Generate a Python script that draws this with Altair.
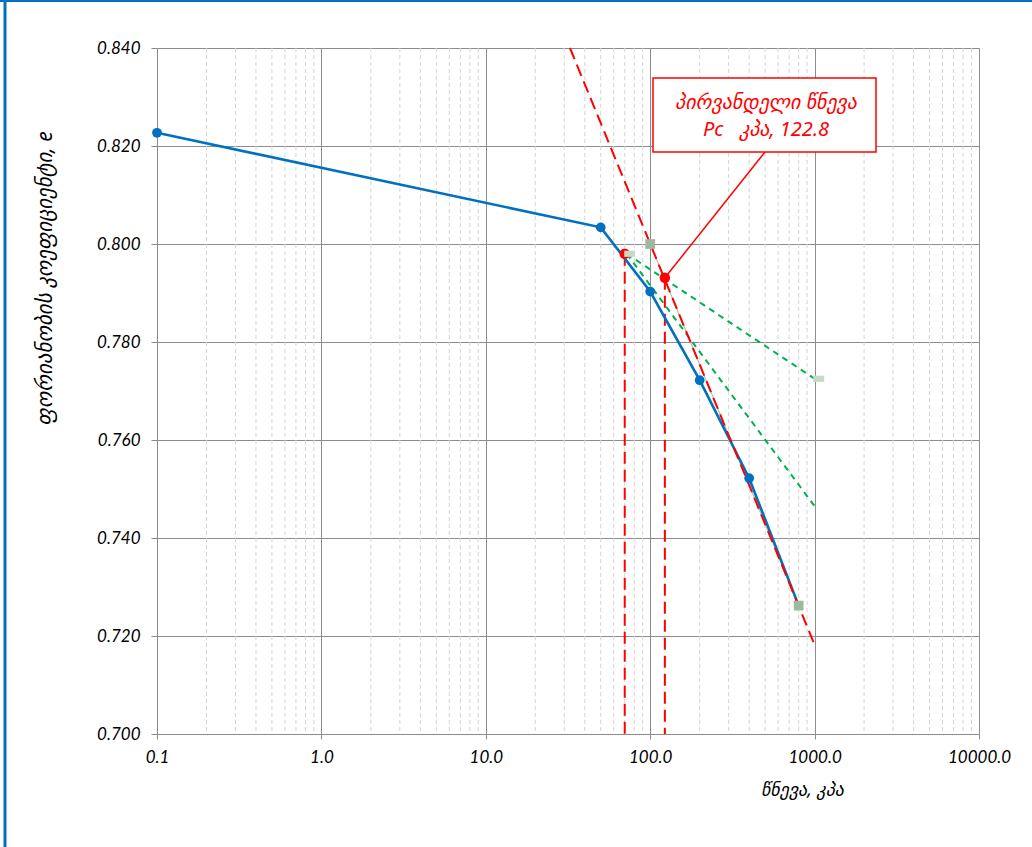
import altair as alt
import pandas as pd

# ---- data ----
pressure = [0.1, 50, 100, 200, 400, 800]
void_ratio = [0.8227, 0.8034, 0.7903, 0.7722, 0.7522, 0.7262]

cc_p = [32.5, 1000]          # virgin compression (red dashed) line
cc_e = [0.840, 0.7182]
bis_p = [72, 1000]           # bisector (green dashed)
bis_e = [0.798, 0.7725]
tan_p = [72, 1000]           # tangent (green dashed)
tan_e = [0.798, 0.7465]
ref_p = [100, 800]           # grey-green square series
ref_e = [0.800, 0.7262]
light_p = [75, 1060]         # light square markers
light_e = [0.798, 0.7725]
mc_p = [70]                  # max-curvature point
mc_e = [0.798]
pc_p = [122.8]               # preconsolidation pressure
pc_e = [0.7931]
drop_p = [70, 122.8]
drop_top = [0.798, 0.7931]
drop_bot = [0.700, 0.700]

x_ticks = [0.1, 1, 10, 100, 1000, 10000]
y_ticks = [0.700, 0.720, 0.740, 0.760, 0.780, 0.800, 0.820, 0.840]
minor_x = [m * d for d in [0.1, 1, 10, 100, 1000] for m in [2, 3, 4, 5, 6, 7, 8, 9]]

x_title = "წნევა, კპა"
y_title = "ფორიანობის კოეფიციენტი, e"
note_lines = ["პირვანდელი წნევა", "Pc\u00a0\u00a0 კპა, 122.8"]

FONT = "Noto Sans, DejaVu Sans"
LFONT = "Lato"
GRID = "#8c8c8c"

def df(p, e):
    return pd.DataFrame({"p": p, "e": e})

xenc = alt.X(
    "p:Q",
    scale=alt.Scale(type="log", domain=[0.1, 10000], nice=False),
    axis=alt.Axis(
        values=x_ticks, format=".1f", grid=True, gridColor=GRID, gridWidth=1,
        domainColor=GRID, tickColor=GRID, tickSize=5, labelPadding=10,
        labelFont=LFONT, labelFontStyle="italic", labelFontWeight="normal",
        labelFontSize=17, labelColor="#000",
        labelFlush=False, labelOverlap=False,
        title=x_title, titleFont=FONT, titleFontStyle="italic", titleFontWeight="normal",
        titleFontSize=18, titleColor="#000", titleX=645, titleY=56,
        titleAlign="center", titleBaseline="middle",
    ),
)
yenc = alt.Y(
    "e:Q",
    scale=alt.Scale(domain=[0.70, 0.84], nice=False, zero=False),
    axis=alt.Axis(
        values=y_ticks, format=".3f", grid=True, gridColor=GRID, gridWidth=1,
        domainColor=GRID, tickColor=GRID, tickSize=6, labelPadding=11,
        labelFont=LFONT, labelFontStyle="italic", labelFontWeight="normal",
        labelFontSize=17, labelColor="#000",
        labelOverlap=False,
        title=y_title, titleFont=FONT, titleFontStyle="italic", titleFontWeight="normal",
        titleFontSize=21, titleColor="#000", titleX=-112, titleY=230,
        titleAlign="center", titleBaseline="middle", titleAngle=270,
    ),
)

minor = alt.Chart(pd.DataFrame({"p": minor_x})).mark_rule(
    color="#d4d4d4", strokeWidth=1, strokeDash=[4, 3]
).encode(x=xenc)

ref_line = alt.Chart(df(ref_p, ref_e)).mark_line(color="#a9c6a9", strokeWidth=1.2).encode(x=xenc, y=yenc)
bis = alt.Chart(df(bis_p, bis_e)).mark_line(color="#00b050", strokeWidth=2, strokeDash=[6, 5]).encode(x=xenc, y=yenc)
tan = alt.Chart(df(tan_p, tan_e)).mark_line(color="#00b050", strokeWidth=2, strokeDash=[6, 5]).encode(x=xenc, y=yenc)

drops = alt.Chart(pd.DataFrame({"p": drop_p, "e": drop_top, "e2": drop_bot})).mark_rule(
    color="#ff0000", strokeWidth=2, strokeDash=[12, 6]
).encode(x=xenc, y=yenc, y2="e2:Q")

blue_line = alt.Chart(df(pressure, void_ratio)).mark_line(color="#0070c0", strokeWidth=2.6).encode(x=xenc, y=yenc)
cc = alt.Chart(df(cc_p, cc_e)).mark_line(color="#ff0000", strokeWidth=2, strokeDash=[12, 6]).encode(x=xenc, y=yenc)
blue_pts = alt.Chart(df(pressure[:-1], void_ratio[:-1])).mark_point(
    shape="circle", filled=True, color="#0070c0", size=95, opacity=1
).encode(x=xenc, y=yenc)

ref_sq = alt.Chart(df(ref_p, ref_e)).mark_point(
    shape="square", filled=True, color="#9fb89f", size=95, opacity=1
).encode(x=xenc, y=yenc)
mc_pt = alt.Chart(df(mc_p, mc_e)).mark_point(
    shape="circle", filled=True, color="#ff0000", size=110, opacity=1
).encode(x=xenc, y=yenc)
light_sq = alt.Chart(df(light_p, light_e)).mark_point(
    shape="M-1.4,-0.8L1.4,-0.8L1.4,0.8L-1.4,0.8Z", filled=True, color="#c6dac6", size=60, opacity=1
).encode(x=xenc, y=yenc)

pc_df = df(pc_p, pc_e)
leader = alt.Chart(pc_df).mark_rule(color="#ff0000", strokeWidth=1.5).encode(
    x=xenc, y=yenc, x2=alt.value(608), y2=alt.value(104)
)
pc_pt = alt.Chart(pc_df).mark_point(
    shape="circle", filled=True, color="#ff0000", size=110, opacity=1
).encode(x=xenc, y=yenc)

one = pd.DataFrame({"k": [0]})
box = alt.Chart(one).mark_rect(fill="white", stroke="#ff0000", strokeWidth=1.5).encode(
    x=alt.value(496), x2=alt.value(719), y=alt.value(30), y2=alt.value(104)
)
note = alt.Chart(pd.DataFrame({"t": [note_lines]})).mark_text(
    font=FONT, fontStyle="italic", fontSize=20, color="#ff0000", align="center",
    baseline="middle", lineHeight=27
).encode(x=alt.value(609), y=alt.value(55), text="t")

border_left = alt.Chart(one).mark_rule(color="#0070c0", strokeWidth=3).encode(
    x=alt.value(-152), y=alt.value(-48), y2=alt.value(799)
)
border_top = alt.Chart(one).mark_rule(color="#0070c0", strokeWidth=2).encode(
    y=alt.value(-47), x=alt.value(-157), x2=alt.value(875)
)

chart = alt.layer(
    minor, ref_line, bis, tan, drops, blue_line, cc, blue_pts, ref_sq, mc_pt, light_sq,
    leader, pc_pt, box, note, border_left, border_top
).properties(
    width=822, height=686,
    autosize=alt.AutoSizeParams(type="none"),
    padding={"left": 157, "top": 48, "right": 53, "bottom": 113},
    background="white",
).configure_view(stroke="transparent")

chart.save("out.html", embed_options={"renderer": "svg", "actions": False})
